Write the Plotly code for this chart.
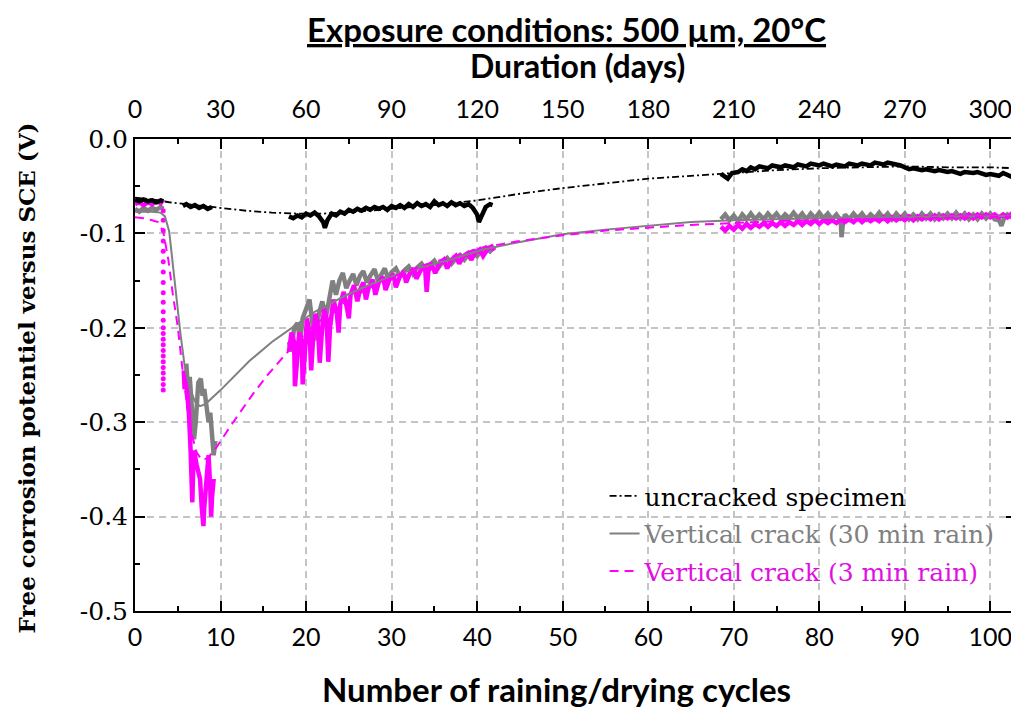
import plotly.graph_objects as go

# ---------------- data (cycles, potential V) ----------------
x_tick_vals = [0, 10, 20, 30, 40, 50, 60, 70, 80, 90, 100]
x_tick_text = ["0", "10", "20", "30", "40", "50", "60", "70", "80", "90", "100"]
day_tick_vals = [0, 30, 60, 90, 120, 150, 180, 210, 240, 270, 300]
day_tick_text = ["0", "30", "60", "90", "120", "150", "180", "210", "240", "270", "300"]
y_tick_vals = [-0.5, -0.4, -0.3, -0.2, -0.1, 0.0]
y_tick_text = ["-0.5", "-0.4", "-0.3", "-0.2", "-0.1", "0.0"]
days_per_cycle = 3

series_names = ["uncracked specimen", "Vertical crack (30 min rain)", "Vertical crack (3 min rain)"]

# fitted trend lines
unc_fit = [(0, -0.062), (2, -0.064), (4, -0.067), (6, -0.069), (8, -0.071), (10, -0.073), (13, -0.076),
           (16, -0.078), (19, -0.079), (22, -0.079), (26, -0.077), (30, -0.074), (35, -0.070), (40, -0.065),
           (45, -0.058), (50, -0.052), (55, -0.047), (60, -0.042), (65, -0.039), (70, -0.036), (75, -0.033),
           (80, -0.031), (85, -0.030), (90, -0.029), (95, -0.030), (100, -0.030), (103, -0.031)]
v30_fit = [(0, -0.077), (1, -0.077), (2, -0.077), (3, -0.078), (3.5, -0.082), (4.0, -0.098), (4.4, -0.13),
           (4.7, -0.16), (5.0, -0.185), (5.3, -0.205), (5.8, -0.24), (6.4, -0.264), (7.0, -0.278), (7.6, -0.283),
           (8.2, -0.281), (10, -0.266), (13.4, -0.235), (16, -0.215), (18.5, -0.199), (21, -0.183), (24.8, -0.165),
           (27, -0.156), (29.8, -0.146), (33, -0.137), (36.8, -0.128), (40.7, -0.117), (45, -0.109), (50, -0.101),
           (55, -0.096), (60, -0.092), (65, -0.088), (70, -0.086), (75, -0.085), (80, -0.084), (85, -0.083),
           (90, -0.083), (95, -0.082), (100, -0.082), (103, -0.081)]
v3_fit = [(0, -0.083), (1, -0.084), (2, -0.086), (2.7, -0.088), (3.3, -0.098), (3.9, -0.128), (4.4, -0.163),
          (5.0, -0.199), (5.6, -0.248), (6.2, -0.29), (6.7, -0.315), (7.2, -0.332), (7.8, -0.34), (8.5, -0.338),
          (9.5, -0.327), (11.1, -0.305), (13.8, -0.27), (15.5, -0.25), (17.7, -0.227), (20, -0.205), (22, -0.19),
          (25, -0.17), (28, -0.155), (31, -0.143), (34, -0.133), (37, -0.125), (40.6, -0.115), (45, -0.108),
          (50, -0.102), (55, -0.097), (60, -0.094), (65, -0.091), (70, -0.089), (75, -0.087), (80, -0.086),
          (85, -0.085), (90, -0.084), (95, -0.083), (100, -0.082), (103, -0.082)]

# measured uncracked specimen
unc_meas_a = [(0, -0.064), (0.5, -0.066), (1, -0.064), (1.5, -0.066), (2, -0.065), (2.5, -0.067), (3, -0.065), (3.3, -0.066)]
unc_meas_b = [(5.6, -0.071), (6, -0.069), (6.5, -0.072), (7, -0.070), (7.5, -0.073), (8, -0.071), (8.5, -0.074), (9, -0.072)]
unc_meas_c = [(18.0, -0.082), (18.5, -0.084), (19.0, -0.081), (19.5, -0.083), (20.0, -0.079), (20.5, -0.081),
              (21.0, -0.078), (21.5, -0.082), (22.0, -0.088), (22.2, -0.094), (22.5, -0.086), (23.0, -0.079),
              (23.5, -0.081), (24.0, -0.077), (24.5, -0.079), (25.0, -0.075), (25.5, -0.077), (26, -0.074),
              (26.5, -0.076), (27, -0.073), (27.5, -0.075), (28, -0.072), (28.5, -0.074), (29, -0.072),
              (29.5, -0.075), (30, -0.071), (30.5, -0.073), (31, -0.070), (31.5, -0.073), (32, -0.069),
              (32.5, -0.072), (33, -0.068), (33.5, -0.071), (34, -0.069), (34.5, -0.072), (35, -0.066),
              (35.5, -0.070), (36, -0.068), (36.5, -0.071), (37, -0.067), (37.5, -0.070), (38, -0.068),
              (38.5, -0.071), (39, -0.069), (39.5, -0.073), (40.0, -0.080), (40.2, -0.088), (40.5, -0.081),
              (41, -0.072), (41.5, -0.069), (41.8, -0.070)]
unc_meas_d = [(68.5, -0.037), (69.0, -0.041), (69.3, -0.042), (69.8, -0.036), (70.5, -0.035), (71, -0.032),
              (71.5, -0.034), (72, -0.030), (72.5, -0.032), (73, -0.029), (74, -0.031), (74.5, -0.028),
              (75.5, -0.030), (76, -0.028), (77, -0.030), (77.5, -0.027), (78.5, -0.029), (79, -0.026),
              (80, -0.028), (80.5, -0.026), (81.5, -0.029), (82, -0.027), (83, -0.029), (83.5, -0.026),
              (84.5, -0.028), (85, -0.026), (86, -0.028), (86.5, -0.025), (87.5, -0.027), (88, -0.025),
              (89, -0.027), (89.5, -0.028), (90.5, -0.032), (91, -0.031), (92, -0.033), (92.5, -0.032),
              (93.5, -0.034), (94, -0.033), (95, -0.035), (95.5, -0.034), (96.5, -0.037), (97, -0.035),
              (98, -0.036), (98.5, -0.035), (99.5, -0.038), (100, -0.037), (101, -0.039), (101.5, -0.036),
              (102.5, -0.040), (103, -0.038)]

# measured vertical crack, 30 min rain
v30_meas_a = [(0, -0.074), (0.5, -0.077), (1, -0.073), (1.5, -0.076), (2, -0.073), (2.5, -0.075), (3, -0.072), (3.3, -0.074)]
v30_meas_b = [(6.0, -0.238), (6.2, -0.268), (6.4, -0.252), (6.7, -0.29), (6.9, -0.318), (7.1, -0.300), (7.4, -0.258),
              (7.7, -0.254), (7.9, -0.272), (8.1, -0.265), (8.4, -0.284), (8.6, -0.300), (8.8, -0.290),
              (9.0, -0.318), (9.2, -0.335), (9.4, -0.32)]
v30_meas_c = [(18.0, -0.215), (18.3, -0.225), (18.6, -0.200), (19.0, -0.195), (19.3, -0.215), (19.6, -0.190),
              (20.0, -0.180), (20.4, -0.170), (20.8, -0.200), (21.2, -0.213), (21.5, -0.185), (21.9, -0.172),
              (22.3, -0.190), (22.7, -0.170), (23.1, -0.150), (23.5, -0.165), (23.9, -0.150), (24.3, -0.142),
              (24.7, -0.158), (25.1, -0.150), (25.5, -0.143), (25.9, -0.155), (26.3, -0.145), (26.7, -0.140),
              (27.1, -0.152), (27.5, -0.145), (28, -0.138), (28.4, -0.150), (28.8, -0.143), (29.2, -0.137),
              (29.6, -0.148), (30, -0.141), (30.5, -0.137), (31, -0.146), (31.5, -0.139), (32, -0.135),
              (32.5, -0.143), (33, -0.136), (33.5, -0.132), (34, -0.139), (34.5, -0.133), (35, -0.129),
              (35.5, -0.136), (36, -0.130), (36.5, -0.126), (37, -0.132), (37.5, -0.127), (38, -0.123),
              (38.5, -0.128), (39, -0.122), (39.5, -0.119), (40, -0.124), (40.5, -0.118), (41, -0.115),
              (41.5, -0.119), (42, -0.114)]
v30_meas_d = [(68.5, -0.085), (69, -0.080), (69.5, -0.086), (70, -0.081), (70.5, -0.087), (71, -0.080),
              (71.5, -0.085), (72, -0.079), (72.5, -0.085), (73, -0.080), (73.5, -0.085), (74, -0.079),
              (74.5, -0.084), (75, -0.079), (75.5, -0.085), (76, -0.080), (76.5, -0.084), (77, -0.078),
              (77.5, -0.084), (78, -0.079), (78.5, -0.085), (79, -0.079), (79.5, -0.084), (80, -0.078),
              (80.5, -0.084), (81, -0.079), (81.5, -0.085), (82, -0.080), (82.5, -0.086), (82.6, -0.104),
              (82.8, -0.087), (83, -0.080), (83.5, -0.085), (84, -0.079), (84.5, -0.084), (85, -0.079),
              (85.5, -0.085), (86, -0.080), (86.5, -0.084), (87, -0.078), (87.5, -0.084), (88, -0.079),
              (88.5, -0.085), (89, -0.079), (89.5, -0.084), (90, -0.079), (90.5, -0.085), (91, -0.080),
              (91.5, -0.085), (92, -0.079), (92.5, -0.084), (93, -0.079), (93.5, -0.085), (94, -0.080),
              (94.5, -0.084), (95, -0.079), (95.5, -0.084), (96, -0.078), (96.5, -0.084), (97, -0.079),
              (97.5, -0.085), (98, -0.080), (98.5, -0.085), (99, -0.079), (99.5, -0.084), (100, -0.079),
              (100.5, -0.085), (101, -0.086), (101.3, -0.092), (101.6, -0.084), (102, -0.080), (102.5, -0.083),
              (103, -0.078)]

# measured vertical crack, 3 min rain
v3_meas_a = [(0, -0.069), (0.5, -0.067), (1, -0.070), (1.5, -0.067), (2, -0.069), (2.5, -0.066), (3, -0.068), (3.3, -0.064)]
v3_drop_x = 3.3
v3_drop_y = [-0.076, -0.086, -0.097, -0.108, -0.119, -0.130, -0.141, -0.152, -0.163, -0.173, -0.183, -0.192,
             -0.200, -0.206, -0.212, -0.218, -0.224, -0.230, -0.236, -0.242, -0.248, -0.254, -0.260, -0.266]
v3_meas_b = [(5.7, -0.245), (5.8, -0.265), (5.9, -0.25), (6.3, -0.29), (6.5, -0.33), (6.6, -0.36), (6.7, -0.385),
             (6.8, -0.35), (6.9, -0.33), (7.2, -0.345), (7.6, -0.36), (7.8, -0.39), (8.0, -0.41), (8.1, -0.39),
             (8.3, -0.37), (8.6, -0.335), (8.8, -0.37), (8.9, -0.40), (9.0, -0.38), (9.2, -0.36)]
v3_meas_c = [(18.0, -0.225), (18.3, -0.205), (18.6, -0.215), (18.7, -0.262), (18.9, -0.240), (19.2, -0.205),
             (19.5, -0.215), (19.6, -0.260), (19.8, -0.235), (20.1, -0.190), (20.4, -0.205), (20.6, -0.245),
             (20.8, -0.215), (21.1, -0.185), (21.4, -0.200), (21.6, -0.237), (21.8, -0.210), (22.1, -0.180),
             (22.4, -0.190), (22.6, -0.236), (22.8, -0.200), (23.2, -0.170), (23.6, -0.185), (23.8, -0.205),
             (24.0, -0.175), (24.4, -0.162), (24.8, -0.180), (25.0, -0.190), (25.2, -0.165), (25.6, -0.155),
             (26.0, -0.172), (26.3, -0.160), (26.7, -0.152), (27.0, -0.170), (27.3, -0.158), (27.8, -0.149),
             (28.1, -0.165), (28.5, -0.152), (29.0, -0.146), (29.3, -0.160), (29.7, -0.150), (30.2, -0.143),
             (30.5, -0.157), (30.9, -0.147), (31.4, -0.140), (31.7, -0.152), (32.1, -0.143), (32.6, -0.137),
             (32.9, -0.148), (33.4, -0.139), (33.9, -0.134), (34.1, -0.162), (34.3, -0.140), (34.7, -0.133),
             (35.1, -0.142), (35.6, -0.132), (36.1, -0.128), (36.5, -0.137), (37.0, -0.128), (37.5, -0.124),
             (37.9, -0.132), (38.4, -0.124), (38.9, -0.121), (39.3, -0.128), (39.8, -0.120), (40.3, -0.117),
             (40.7, -0.124), (41.2, -0.117), (41.7, -0.114), (42.0, -0.118)]
v3_meas_d = [(68.5, -0.093), (69, -0.097), (69.5, -0.092), (70, -0.096), (70.5, -0.091), (71, -0.095),
             (71.5, -0.090), (72, -0.094), (72.5, -0.090), (73, -0.093), (73.5, -0.089), (74, -0.093),
             (74.5, -0.089), (75, -0.092), (75.5, -0.088), (76, -0.092), (76.5, -0.088), (77, -0.091),
             (77.5, -0.087), (78, -0.091), (78.5, -0.087), (79, -0.090), (79.5, -0.086), (80, -0.090),
             (80.5, -0.086), (81, -0.089), (81.5, -0.086), (82, -0.089), (82.5, -0.085), (83, -0.088),
             (83.5, -0.085), (84, -0.088), (84.5, -0.084), (85, -0.088), (85.5, -0.084), (86, -0.087),
             (86.5, -0.084), (87, -0.087), (87.5, -0.083), (88, -0.087), (88.5, -0.083), (89, -0.086),
             (89.5, -0.083), (90, -0.086), (90.5, -0.082), (91, -0.086), (91.5, -0.082), (92, -0.085),
             (92.5, -0.082), (93, -0.085), (93.5, -0.081), (94, -0.085), (94.5, -0.081), (95, -0.084),
             (95.5, -0.081), (96, -0.084), (96.5, -0.081), (97, -0.084), (97.5, -0.080), (98, -0.084),
             (98.5, -0.080), (99, -0.083), (99.5, -0.080), (100, -0.083), (100.5, -0.080), (101, -0.083),
             (101.5, -0.080), (102, -0.083), (102.5, -0.079), (103, -0.081)]

# ---------------- styling ----------------
GRAY = "#808080"
MAGENTA = "#ff00ff"
MAG_TEXT = "#e010e0"
SANS = "Lato, Liberation Sans, sans-serif"
SERIF = "DejaVu Serif, Liberation Serif, serif"


def join_segments(*segs, scale=1):
    xs, ys = [], []
    for i, seg in enumerate(segs):
        if i:
            xs.append(None)
            ys.append(None)
        xs.extend(p[0] * scale for p in seg)
        ys.extend(p[1] for p in seg)
    return xs, ys


fig = go.Figure()

# measured data (thick)
gx, gy = join_segments(v30_meas_a, v30_meas_b, v30_meas_c, v30_meas_d)
fig.add_trace(go.Scatter(x=gx, y=gy, mode="lines", line=dict(color=GRAY, width=4.5),
                         showlegend=False, hoverinfo="skip"))
mx, my = join_segments(v3_meas_a, v3_meas_b, v3_meas_c, v3_meas_d)
fig.add_trace(go.Scatter(x=mx, y=my, mode="lines", line=dict(color=MAGENTA, width=4.5),
                         showlegend=False, hoverinfo="skip"))
fig.add_trace(go.Scatter(x=[v3_drop_x] * len(v3_drop_y), y=v3_drop_y, mode="markers",
                         marker=dict(color=MAGENTA, size=5), showlegend=False, hoverinfo="skip"))
bx, by = join_segments(unc_meas_a, unc_meas_b, unc_meas_c, unc_meas_d)
fig.add_trace(go.Scatter(x=bx, y=by, mode="lines", line=dict(color="black", width=4.5),
                         showlegend=False, hoverinfo="skip"))

# fitted lines (legend); the uncracked fit is drawn on the day axis (top)
fx, fy = join_segments(unc_fit, scale=days_per_cycle)
fig.add_trace(go.Scatter(x=fx, y=fy, mode="lines", name=series_names[0], legendgroup="a", xaxis="x2",
                         line=dict(color="black", width=1.8, dash="7px,3px,2px,3px")))
fx, fy = join_segments(v30_fit)
fig.add_trace(go.Scatter(x=fx, y=fy, mode="lines", legendgroup="b",
                         name='<span style="color:%s">%s</span>' % (GRAY, series_names[1]),
                         line=dict(color=GRAY, width=2)))
fx, fy = join_segments(v3_fit)
fig.add_trace(go.Scatter(x=fx, y=fy, mode="lines", legendgroup="c",
                         name='<span style="color:%s">%s</span>' % (MAG_TEXT, series_names[2]),
                         line=dict(color=MAGENTA, width=2, dash="9px,6px")))

grid = dict(showgrid=True, gridcolor="#c4c4c4", gridwidth=1.5, griddash="7px,5px")

# the page body adds an 8 px offset, so the figure is 8 px smaller than the window
fig.update_layout(
    width=1011, height=701,
    margin=dict(l=127, r=1, t=131, b=98),
    paper_bgcolor="white", plot_bgcolor="white",
    showlegend=True,
    legend=dict(x=0.533, y=0.292, xanchor="left", yanchor="top",
                bgcolor="rgba(0,0,0,0)", font=dict(family=SERIF, size=25, color="black"),
                tracegroupgap=2, traceorder="grouped"),
    xaxis=dict(range=[0, 103], tickvals=x_tick_vals, ticktext=x_tick_text, ticks="inside",
               ticklen=10, tickwidth=1.5, tickcolor="black", ticklabelstandoff=3,
               minor=dict(dtick=5, ticks="inside", ticklen=5, tickcolor="black", tickwidth=1.5, showgrid=False),
               showline=True, linecolor="black", linewidth=2, mirror=False, zeroline=False,
               tickfont=dict(family=SANS, size=25, color="black"), **grid),
    xaxis2=dict(range=[0, 103 * days_per_cycle], overlaying="x", anchor="y", side="top",
                tickvals=day_tick_vals, ticktext=day_tick_text, ticks="inside", ticklen=10, tickwidth=1.5,
                tickcolor="black", ticklabelstandoff=9,
                minor=dict(dtick=15, ticks="inside", ticklen=5, tickcolor="black", tickwidth=1.5),
                showline=True, linecolor="black", linewidth=2, showgrid=False, zeroline=False,
                tickfont=dict(family=SANS, size=25, color="black")),
    yaxis=dict(range=[-0.5, 0.0], tickvals=y_tick_vals, ticktext=y_tick_text, ticks="inside",
               ticklen=10, tickwidth=1.5, tickcolor="black",
               minor=dict(dtick=0.05, ticks="inside", ticklen=5, tickcolor="black", tickwidth=1.5, showgrid=False),
               showline=True, linecolor="black", linewidth=2, mirror="ticks", zeroline=False,
               tickfont=dict(family=SERIF, size=25, color="black"), **grid),
)

fig.add_annotation(text="<b><u>Exposure conditions: 500 µm, 20°C</u></b>", xref="paper", yref="paper",
                   x=0.490, y=1.232, xanchor="center", yanchor="middle", showarrow=False,
                   font=dict(family=SANS, size=33, color="black"))
fig.add_annotation(text="<b>Duration (days)</b>", xref="paper", yref="paper",
                   x=0.502, y=1.155, xanchor="center", yanchor="middle", showarrow=False,
                   font=dict(family=SANS, size=32, color="black"))
fig.add_annotation(text="<b>Number of raining/drying cycles</b>", xref="paper", yref="paper",
                   x=0.479, y=-0.165, xanchor="center", yanchor="middle", showarrow=False,
                   font=dict(family=SANS, size=33, color="black"))
fig.add_annotation(text="<b>Free corrosion potentiel versus SCE (V)</b>", xref="paper", yref="paper",
                   x=-0.123, y=0.494, xanchor="center", yanchor="middle", showarrow=False, textangle=-90,
                   font=dict(family=SERIF, size=23, color="black"))

fig.write_html("out.html")
